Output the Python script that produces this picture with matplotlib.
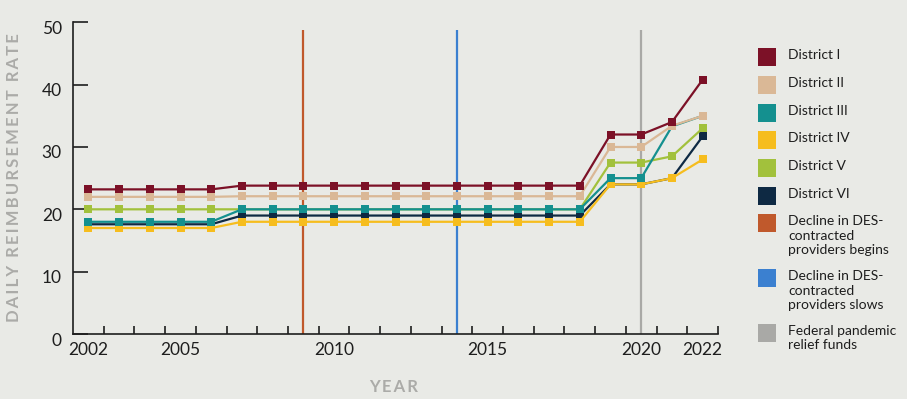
import matplotlib
matplotlib.use("Agg")
import matplotlib.pyplot as plt
import matplotlib.transforms as mtransforms
from matplotlib.patches import Rectangle

# ---------------- data ----------------
years = [2002, 2003, 2004, 2005, 2006, 2007, 2008, 2009, 2010, 2011, 2012,
         2013, 2014, 2015, 2016, 2017, 2018, 2019, 2020, 2021, 2022]

district_1 = [23.2, 23.2, 23.2, 23.2, 23.2, 23.8, 23.8, 23.8, 23.8, 23.8, 23.8,
              23.8, 23.8, 23.8, 23.8, 23.8, 23.8, 32.0, 32.0, 34.0, 40.8]
district_2 = [22.0, 22.0, 22.0, 22.0, 22.0, 22.1, 22.1, 22.1, 22.1, 22.1, 22.1,
              22.1, 22.1, 22.1, 22.1, 22.1, 22.1, 30.0, 30.0, 33.4, 35.0]
district_3 = [18.0, 18.0, 18.0, 18.0, 18.0, 20.0, 20.0, 20.0, 20.0, 20.0, 20.0,
              20.0, 20.0, 20.0, 20.0, 20.0, 20.0, 25.0, 25.0, 33.3, 35.0]
district_4 = [17.0, 17.0, 17.0, 17.0, 17.0, 18.0, 18.0, 18.0, 18.0, 18.0, 18.0,
              18.0, 18.0, 18.0, 18.0, 18.0, 18.0, 24.0, 24.0, 25.0, 28.0]
district_5 = [20.0, 20.0, 20.0, 20.0, 20.0, 20.0, 20.0, 20.0, 20.0, 20.0, 20.0,
              20.0, 20.0, 20.0, 20.0, 20.0, 20.0, 27.5, 27.5, 28.5, 33.0]
district_6 = [17.6, 17.6, 17.6, 17.6, 17.6, 19.0, 19.0, 19.0, 19.0, 19.0, 19.0,
              19.0, 19.0, 19.0, 19.0, 19.0, 19.0, 24.0, 24.0, 25.0, 31.7]

series_names = ["District I", "District II", "District III",
                "District IV", "District V", "District VI"]
series_values = [district_1, district_2, district_3,
                 district_4, district_5, district_6]
series_colors = ["#7C1127", "#DAB896", "#14908F", "#F6BD1E", "#A2C13C", "#0E2943"]
# drawing order (bottom -> top): VI, IV, V, III, II, I
draw_order = [5, 3, 4, 2, 1, 0]

event_years = [2009, 2014, 2020]
event_labels = ["Decline in DES-\ncontracted\nproviders begins",
                "Decline in DES-\ncontracted\nproviders slows",
                "Federal pandemic\nrelief funds"]
event_colors = ["#C0592C", "#3B80D0", "#A9A9A6"]
event_top = 48.8

xtick_labels = [2002, 2005, 2010, 2015, 2020, 2022]
ytick_values = [0, 10, 20, 30, 40, 50]

# ---------------- style ----------------
BG = "#E9EAE6"
FONT = ["Lato", "DejaVu Sans"]
plt.rcParams["font.family"] = FONT

W, H = 907, 399
fig = plt.figure(figsize=(W / 100, H / 100), dpi=100, facecolor=BG)
ax = fig.add_axes([73 / W, 1 - 334 / H, (718 - 73) / W, (334 - 22.3) / H])
ax.set_facecolor(BG)

# event vertical lines
for yr, col in zip(event_years, event_colors):
    ax.vlines(yr, 0, event_top, colors=col, linewidth=1.6, zorder=1)

# series
for z, i in enumerate(draw_order):
    ax.plot(years, series_values[i], color=series_colors[i], linewidth=1.6,
            marker="s", markersize=6, markeredgewidth=0, zorder=3 + z,
            clip_on=False)

ax.set_xlim(2001.5, 2022.5)
ax.set_ylim(0, 50)

for s in ["top", "right"]:
    ax.spines[s].set_visible(False)
for s in ["left", "bottom"]:
    ax.spines[s].set_color("#1E1E1E")
    ax.spines[s].set_linewidth(1.2)

# y ticks
ax.set_yticks(ytick_values)
ax.set_yticklabels([str(v) for v in ytick_values])
ax.tick_params(axis="y", direction="in", length=11, width=1.2, color="#1E1E1E",
               labelsize=12.5, labelcolor="#1E1E1E", pad=8)
off = mtransforms.ScaledTranslation(0, -5 / 100, fig.dpi_scale_trans)
for lab in ax.get_yticklabels():
    lab.set_transform(lab.get_transform() + off)

# x ticks: marks at half years, labels at selected years
ax.set_xticks([y + 0.5 for y in years])
ax.set_xticklabels([])
ax.tick_params(axis="x", which="major", direction="in", length=5.5, width=1.2,
               color="#1E1E1E")
ax.set_xticks(xtick_labels, minor=True)
ax.set_xticklabels([str(v) for v in xtick_labels], minor=True)
ax.tick_params(axis="x", which="minor", length=0, labelsize=12.5,
               labelcolor="#1E1E1E", pad=6)

# axis titles
fig.text(14 / W, 1 - 178 / H, "D\u2009A\u2009I\u2009L\u2009Y  R\u2009E\u2009I\u2009M\u2009B\u2009U\u2009R\u2009S\u2009E\u2009M\u2009E\u2009N\u2009T  R\u2009A\u2009T\u2009E",
         rotation=90, ha="center", va="center", color="#ABABA8",
         fontsize=12, fontweight="bold", family=FONT)
fig.text(394 / W, 1 - 387 / H, "Y\u2009E\u2009A\u2009R", ha="center", va="center",
         color="#ABABA8", fontsize=12, fontweight="bold", family=FONT)

# legend (manual, squares aligned with first text line)
legend_names = series_names + event_labels
legend_colors = series_colors + event_colors
legend_y = [56.7, 85, 112.7, 140, 167.7, 195.7, 223.3, 278.3, 332.7]
sq = 18
for name, col, yc in zip(legend_names, legend_colors, legend_y):
    fig.patches.append(Rectangle((757.5 / W, 1 - (yc + sq / 2) / H), sq / W, sq / H,
                                 transform=fig.transFigure, facecolor=col,
                                 edgecolor="none"))
    fig.text(788 / W, 1 - (yc - 8) / H, name, ha="left", va="top",
             fontsize=10, color="#1E1E1E", linespacing=1.25, family=FONT)

fig.savefig("out.png", dpi=100, facecolor=BG)
